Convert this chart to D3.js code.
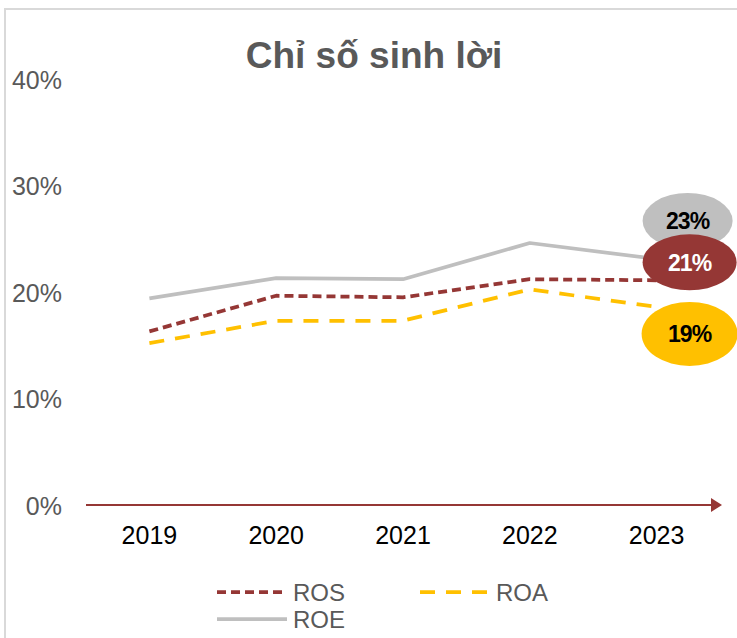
<!DOCTYPE html>
<html>
<head>
<meta charset="utf-8">
<script src="https://cdn.jsdelivr.net/npm/d3@7"></script>
<style>
  html, body { margin: 0; padding: 0; background: #fff; }
  svg { display: block; font-family: "Liberation Sans", Arial, sans-serif; }
</style>
</head>
<body>
<svg id="chart" width="737" height="638"></svg>
<script>
// ---- data ----
const years = ["2019", "2020", "2021", "2022", "2023"];
const ros = [16.3, 19.65, 19.5, 21.2, 21.1];
const roa = [15.2, 17.3, 17.3, 20.25, 18.6];
const roe = [19.4, 21.3, 21.2, 24.6, 23.1];
const yTicks = [0, 10, 20, 30, 40];
const endLabels = ["21%", "19%", "23%"]; // ROS, ROA, ROE
const seriesNames = ["ROS", "ROA", "ROE"];
const title = "Chỉ số sinh lời";

// ---- setup ----
const W = 737, H = 638;
const svg = d3.select("#chart");
svg.append("rect").attr("width", W).attr("height", H).attr("fill", "#fff");
// outer border
svg.append("path")
  .attr("d", `M5,${H + 5} L5,9 L${W + 5},9`)
  .attr("fill", "none").attr("stroke", "#d9d9d9").attr("stroke-width", 2);

const x = d3.scaleBand().domain(years).range([86, 720]);
const y = d3.scaleLinear().domain([0, 40]).range([505, 79]);

// title
svg.append("text")
  .attr("x", 374).attr("y", 68)
  .attr("text-anchor", "middle")
  .attr("font-size", 37).attr("font-weight", "bold")
  .attr("fill", "#595959")
  .text(title);

// y axis labels (no line)
const yAxis = d3.axisLeft(y).tickValues(yTicks).tickFormat(d => d + "%").tickSize(0).tickPadding(0);
const gy = svg.append("g").attr("transform", "translate(62,0)").call(yAxis);
gy.select(".domain").remove();
gy.selectAll("text").attr("font-size", 25).attr("fill", "#595959")
  .attr("font-family", "'Liberation Sans', Arial, sans-serif").attr("dy", "0.36em");

// x axis labels
const xAxis = d3.axisBottom(x).tickSize(0).tickPadding(0);
const gx = svg.append("g").attr("transform", "translate(0,526)").call(xAxis);
gx.select(".domain").remove();
gx.selectAll("text").attr("font-size", 25).attr("fill", "#000")
  .attr("font-family", "'Liberation Sans', Arial, sans-serif").attr("dy", "0.71em");

// x axis arrow line
const axisColor = "#953735";
svg.append("line")
  .attr("x1", x.range()[0]).attr("x2", x.range()[1] - 8)
  .attr("y1", y(0)).attr("y2", y(0))
  .attr("stroke", axisColor).attr("stroke-width", 2);
svg.append("path")
  .attr("d", `M${x.range()[1] - 9},${y(0) - 7} L${x.range()[1] + 2},${y(0)} L${x.range()[1] - 9},${y(0) + 7} Z`)
  .attr("fill", axisColor);

// series
const colors = ["#953735", "#FFC000", "#BFBFBF"];
const dashes = ["9,5", "15,11", null];
const values = [ros, roa, roe];
const cx = d => x(d) + x.bandwidth() / 2;
const line = d3.line().x((d, i) => cx(years[i])).y(d => y(d));

// draw order: ROE first (behind), then ROS, ROA
[2, 0, 1].forEach(s => {
  svg.append("path")
    .datum(values[s])
    .attr("d", line)
    .attr("fill", "none")
    .attr("stroke", colors[s])
    .attr("stroke-width", 3.75)
    .attr("stroke-dasharray", dashes[s])
    .attr("stroke-linejoin", "round");
});

// end labels (bubbles)
const last = years.length - 1;
const labelCfg = [
  { dx: 33, dy: -18, rx: 47, ry: 28, text: "#ffffff" },  // ROS
  { dx: 33, dy: 27, rx: 48, ry: 32, text: "#000000" },   // ROA
  { dx: 31, dy: -38, rx: 45, ry: 28, text: "#000000" }   // ROE
];
[1, 2, 0].forEach(s => {
  const px = cx(years[last]) + labelCfg[s].dx;
  const py = y(values[s][last]) + labelCfg[s].dy;
  svg.append("ellipse")
    .attr("cx", px).attr("cy", py)
    .attr("rx", labelCfg[s].rx).attr("ry", labelCfg[s].ry)
    .attr("fill", colors[s]);
  svg.append("text")
    .attr("x", px).attr("y", py)
    .attr("dy", "0.36em")
    .attr("text-anchor", "middle")
    .attr("font-size", 23).attr("font-weight", "bold")
    .attr("letter-spacing", -1)
    .attr("fill", labelCfg[s].text)
    .text(endLabels[s]);
});

// legend
const legendPos = [
  { x: 217, y: 592 },
  { x: 420, y: 592 },
  { x: 217, y: 619 }
];
seriesNames.forEach((name, s) => {
  const g = svg.append("g").attr("transform", `translate(${legendPos[s].x},${legendPos[s].y})`);
  g.append("line")
    .attr("x1", 0).attr("x2", 70).attr("y1", 0).attr("y2", 0)
    .attr("stroke", colors[s]).attr("stroke-width", 3.75)
    .attr("stroke-dasharray", dashes[s]);
  g.append("text")
    .attr("x", 76).attr("y", 0).attr("dy", "0.36em")
    .attr("font-size", 24).attr("fill", "#595959")
    .text(name);
});
</script>
</body>
</html>
